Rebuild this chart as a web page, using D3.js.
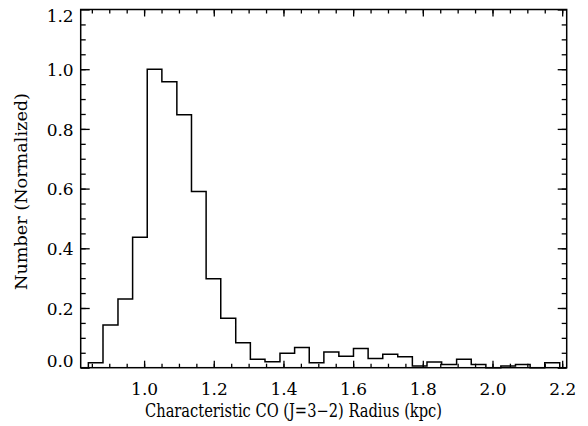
<!DOCTYPE html>
<html>
<head>
<meta charset="utf-8">
<style>
  body { margin: 0; background: #fff; }
</style>
</head>
<body>
<div id="chart"></div>
<script src="https://d3js.org/d3.v7.min.js"></script>
<script>
// histogram bins: left edge of each bin (kpc) and normalized count
var binEdges = [0.840, 0.882, 0.925, 0.967, 1.009, 1.051, 1.094, 1.136, 1.178, 1.220,
                1.263, 1.305, 1.347, 1.390, 1.432, 1.474, 1.516, 1.559, 1.601, 1.643,
                1.685, 1.728, 1.770, 1.812, 1.854, 1.897, 1.939, 1.981, 2.024, 2.066,
                2.108, 2.150, 2.193];
var counts = [0.017, 0.143, 0.230, 0.437, 1.000, 0.958, 0.847, 0.590, 0.298, 0.166,
              0.084, 0.028, 0.020, 0.048, 0.068, 0.017, 0.053, 0.038, 0.064, 0.031,
              0.045, 0.037, 0.006, 0.019, 0.011, 0.028, 0.011, 0.000, 0.006, 0.011,
              0.000, 0.017];

var xTicks = [1.0, 1.2, 1.4, 1.6, 1.8, 2.0, 2.2];
var xTickLabels = ["1.0", "1.2", "1.4", "1.6", "1.8", "2.0", "2.2"];
var yTicks = [0.0, 0.2, 0.4, 0.6, 0.8, 1.0, 1.2];
var yTickLabels = ["0.0", "0.2", "0.4", "0.6", "0.8", "1.0", "1.2"];
var xMinor = d3.range(0.85, 2.21, 0.05);
var yMinor = d3.range(0.05, 1.2, 0.05);

var xTitle = "Characteristic CO (J=3\u22122) Radius (kpc)";
var yTitle = "Number (Normalized)";

var W = 588, H = 426;
var mLeft = 80.7, mRight = 566.7, mTop = 9.5, mBottom = 367.7;
var fontSize = 17;
// only DejaVu Serif resolves to a real serif face here
var serif = "'DejaVu Serif', 'Liberation Serif', serif";

var x = d3.scaleLinear().domain([0.818, 2.213]).range([mLeft, mRight]);
var y = d3.scaleLinear().domain([0, 1.2]).range([mBottom, mTop]);

var svg = d3.select("#chart").append("svg")
    .attr("width", W)
    .attr("height", H);

// histogram as a stepped line
var pts = [[x(binEdges[0]), y(0)]];
counts.forEach(function(c, i) {
  pts.push([x(binEdges[i]), y(c)]);
  pts.push([x(binEdges[i + 1]), y(c)]);
});
pts.push([x(binEdges[binEdges.length - 1]), y(0)]);

svg.append("path")
    .attr("d", d3.line()(pts))
    .attr("fill", "none")
    .attr("stroke", "#000")
    .attr("stroke-width", 1.5)
    .attr("stroke-linejoin", "miter");

// inward ticks on all four sides
function tickAxis(axis, g, values, size, fmt) {
  axis.tickValues(values).tickSizeInner(-size).tickSizeOuter(0);
  if (fmt) axis.tickFormat(fmt); else axis.tickFormat("");
  g.call(axis);
  g.attr("font-family", serif).attr("font-size", fontSize);
  g.select(".domain").remove();
  g.selectAll(".tick line").attr("stroke", "#000").attr("stroke-width", 1.3);
  g.selectAll("text").attr("fill", "#000");
  return g;
}

var gxb = svg.append("g").attr("transform", "translate(0," + mBottom + ")");
tickAxis(d3.axisBottom(x).tickPadding(15), gxb, xTicks, 7, function(d, i) { return xTickLabels[i]; });
tickAxis(d3.axisBottom(x), svg.append("g").attr("transform", "translate(0," + mBottom + ")"), xMinor, 4);
tickAxis(d3.axisTop(x), svg.append("g").attr("transform", "translate(0," + mTop + ")"), xTicks, 7);
tickAxis(d3.axisTop(x), svg.append("g").attr("transform", "translate(0," + mTop + ")"), xMinor, 4);

var gyl = svg.append("g").attr("transform", "translate(" + mLeft + ",0)");
tickAxis(d3.axisLeft(y).tickPadding(7), gyl, yTicks, 9, function(d, i) { return yTickLabels[i]; });
tickAxis(d3.axisLeft(y), svg.append("g").attr("transform", "translate(" + mLeft + ",0)"), yMinor, 5);
tickAxis(d3.axisRight(y), svg.append("g").attr("transform", "translate(" + mRight + ",0)"), yTicks, 9);
tickAxis(d3.axisRight(y), svg.append("g").attr("transform", "translate(" + mRight + ",0)"), yMinor, 5);

// end labels sit inside the box height
gyl.selectAll(".tick text").attr("dy", function(d) {
  if (d === 1.2) return "0.68em";
  if (d === 0) return "-0.05em";
  return "0.36em";
});

svg.append("rect")
    .attr("x", mLeft).attr("y", mTop)
    .attr("width", mRight - mLeft).attr("height", mBottom - mTop)
    .attr("fill", "none")
    .attr("stroke", "#000")
    .attr("stroke-width", 1.5);

svg.append("text")
    .attr("x", 145)
    .attr("y", 417)
    .attr("font-family", serif)
    .attr("font-size", 18)
    .attr("textLength", 297)
    .attr("lengthAdjust", "spacingAndGlyphs")
    .text(xTitle);

svg.append("text")
    .attr("transform", "translate(27,290) rotate(-90)")
    .attr("font-family", serif)
    .attr("font-size", fontSize)
    .attr("textLength", 197)
    .attr("lengthAdjust", "spacingAndGlyphs")
    .text(yTitle);
</script>
</body>
</html>
